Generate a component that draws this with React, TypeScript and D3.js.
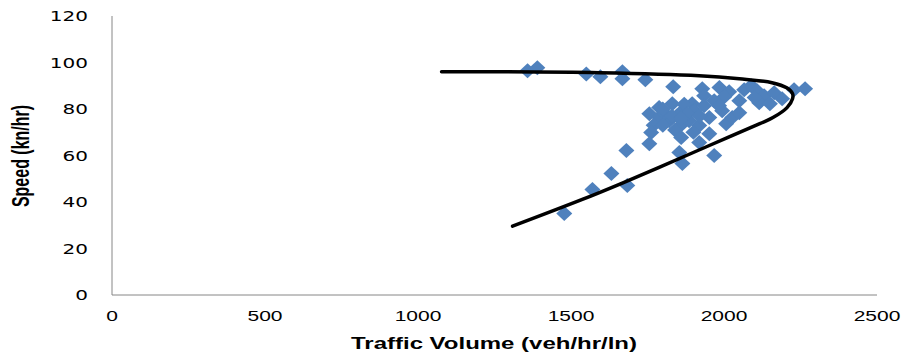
import React from "react";
import * as d3 from "d3";

const flowValues: number[] = [
  1358, 1390, 1550, 1596, 1668, 1668, 1743, 1834,
  1929, 1985, 2017, 2066, 2089, 2108, 2131, 2164, 2229, 2265, 2190, 2050, 2001, 1935, 1968, 2115, 2150, 2100,
  1756, 1788, 1831, 1864, 1896, 1994, 1952, 1864, 1821, 1788, 2007, 2027, 2050, 1919, 1903, 1805, 1847, 1886, 1935, 1984, 1770, 1840, 1900,
  1800, 1870, 1830, 1880, 1920, 1860, 1800,
  1762, 1756, 1681, 1860, 1919, 1952, 1854, 1968, 1864, 1632, 1684, 1570, 1478,
];
const speedValues: number[] = [
  96.4, 97.7, 95.1, 93.9, 96.0, 93.0, 92.6, 89.6,
  88.7, 89.2, 87.4, 88.3, 90.0, 87.9, 85.7, 87.0, 88.3, 88.7, 84.4, 83.6, 85.3, 85.7, 83.6, 82.7, 82.3, 85.0,
  78.0, 80.6, 82.3, 79.3, 82.3, 79.3, 76.3, 73.7, 75.0, 76.3, 73.7, 76.3, 78.4, 72.9, 79.3, 78.4, 77.1, 75.0, 81.4, 81.4, 73.0, 71.0, 70.0,
  80.0, 82.0, 77.0, 78.0, 77.0, 76.0, 73.0,
  69.9, 65.1, 62.1, 67.7, 65.6, 69.4, 61.3, 60.0, 56.6, 52.3, 47.1, 45.4, 35.1,
];

const curveFlow: number[] = [1077, 1266, 1593, 1919, 2050, 2157, 2205, 2224, 2224, 2206, 2160, 2117, 1952, 1788, 1658, 1537, 1309];
const curveSpeed: number[] = [96.0, 96.0, 95.6, 94.3, 93.0, 91.3, 89.1, 86.6, 84.4, 80.6, 76.3, 73.7, 64.3, 54.9, 47.6, 41.1, 29.6];

const xTicks: number[] = [0, 500, 1000, 1500, 2000, 2500];
const yTicks: number[] = [0, 20, 40, 60, 80, 100, 120];

const W = 906;
const H = 358;
const SX = 1.5;

export default function App() {
  const x = d3.scaleLinear().domain([0, 2500]).range([112, 877]);
  const y = d3.scaleLinear().domain([0, 120]).range([295, 16]);

  const pts = flowValues.map((f, i) => [f, speedValues[i]] as [number, number]);
  const curvePts = curveFlow.map((f, i) => [f, curveSpeed[i]] as [number, number]);
  const line = d3
    .line<[number, number]>()
    .x((d) => x(d[0]))
    .y((d) => y(d[1]))
    .curve(d3.curveCatmullRom.alpha(0.5));

  const dw = 8;
  const dh = 7.5;
  const diamond = `M0,${-dh}L${dw},0L0,${dh}L${-dw},0Z`;

  return (
    <svg
      width={W}
      height={H}
      style={{ position: "absolute", left: 0, top: 0, background: "#fff" }}
    >
      <rect x={0} y={0} width={W} height={H} fill="#fff" />
      <line x1={x(0)} x2={x(0)} y1={y(120)} y2={y(0)} stroke="#868686" strokeWidth={1} />
      <line x1={x(0)} x2={x(2500)} y1={y(0)} y2={y(0)} stroke="#868686" strokeWidth={1} />

      {yTicks.map((t) => (
        <text
          key={"y" + t}
          transform={`translate(88,${y(t) + 5}) scale(1.43,1)`}
          textAnchor="end"
          fontFamily="DejaVu Sans"
          fontSize={14}
          fill="#000"
        >
          {t}
        </text>
      ))}

      {xTicks.map((t) => (
        <text
          key={"x" + t}
          transform={`translate(${x(t)},321) scale(${SX},1)`}
          textAnchor="middle"
          fontFamily="Liberation Sans"
          fontSize={14}
          fill="#000"
        >
          {t}
        </text>
      ))}

      <text
        transform={`translate(494,349) scale(${SX},1)`}
        textAnchor="middle"
        fontFamily="Liberation Sans"
        fontWeight="bold"
        fontSize={16}
        fill="#000"
      >
        Traffic Volume (veh/hr/ln)
      </text>
      <text
        transform={`translate(29,156) scale(${SX},1) rotate(-90)`}
        textAnchor="middle"
        fontFamily="Liberation Sans"
        fontWeight="bold"
        fontSize={16}
        fill="#000"
      >
        Speed (kn/hr)
      </text>

      {pts.map((d, i) => (
        <path
          key={"p" + i}
          d={diamond}
          transform={`translate(${x(d[0])},${y(d[1])})`}
          fill="#4F81BD"
        />
      ))}

      <path d={line(curvePts) || ""} fill="none" stroke="#000" strokeWidth={3.5} strokeLinecap="round" />
    </svg>
  );
}
